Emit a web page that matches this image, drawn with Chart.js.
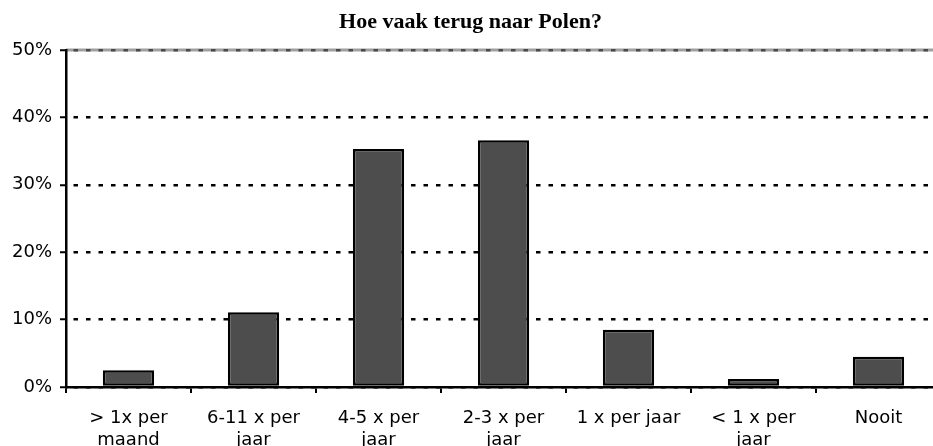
<!DOCTYPE html>
<html><head><meta charset="utf-8">
<script src="https://cdn.jsdelivr.net/npm/chart.js@4"></script>
<style>html,body{margin:0;padding:0;overflow:hidden;background:#fff}</style>
</head><body>
<canvas id="c" width="945" height="446" style="display:block;width:945px;height:446px"></canvas>
<script>
const categories = [["> 1x per","maand"],["6-11 x per","jaar"],["4-5 x per","jaar"],["2-3 x per","jaar"],"1 x per jaar",["< 1 x per","jaar"],"Nooit"];
const values = [2.5, 11.1, 35.3, 36.6, 8.5, 1.2, 4.5];
const yTickValues = [0, 10, 20, 30, 40, 50];
const titleText = "Hoe vaak terug naar Polen?";

const topLinePlugin = {
  id: 'topLine',
  beforeDraw(chart) {
    const {ctx, chartArea} = chart;
    const y = chart.scales.y.getPixelForValue(yTickValues[yTickValues.length - 1]);
    ctx.save();
    ctx.strokeStyle = '#a0a0a0';
    ctx.lineWidth = 3;
    ctx.beginPath();
    ctx.moveTo(chartArea.left, y);
    ctx.lineTo(chartArea.right, y);
    ctx.stroke();
    ctx.restore();
  }
};

new Chart(document.getElementById('c'), {
  type: 'bar',
  data: {
    labels: categories,
    datasets: [{
      data: values,
      backgroundColor: '#4d4d4d',
      borderColor: '#000',
      borderWidth: 2.5,
      borderSkipped: false,
      barPercentage: 0.41,
      categoryPercentage: 1
    }]
  },
  options: {
    responsive: false,
    animation: false,
    devicePixelRatio: 1,
    layout: { padding: { left: 0, right: 4, top: 0, bottom: 0 } },
    plugins: {
      legend: { display: false },
      tooltip: { enabled: false },
      title: {
        display: true,
        text: titleText,
        color: '#000',
        font: { family: 'Liberation Serif', size: 22, weight: 'bold', lineHeight: 1.2 },
        padding: { top: 9, bottom: 14.6 }
      }
    },
    scales: {
      x: {
        type: 'category',
        offset: true,
        afterFit(s) { s.height = 59; },
        grid: { offset: true, drawOnChartArea: false, color: '#000', lineWidth: 2, tickLength: 6, tickColor: '#000', tickWidth: 2 },
        border: { display: true, color: '#000', width: 2.5 },
        ticks: { color: '#000', font: { family: 'DejaVu Sans', size: 18, lineHeight: 1.2 }, maxRotation: 0, autoSkip: false, padding: 14.5 }
      },
      y: {
        min: yTickValues[0],
        max: yTickValues[yTickValues.length - 1],
        afterFit(s) { s.width = 66; },
        afterBuildTicks(s) { s.ticks = yTickValues.map(v => ({ value: v })); },
        grid: {
          color: (c) => (c.tick && c.tick.value === 50) ? '#4a4a4a' : '#000',
          lineWidth: 2.5,
          tickLength: 6,
          tickColor: '#000',
          tickWidth: 2,
          tickBorderDash: []
        },
        border: { display: true, color: '#000', width: 2.5, dash: [4.5, 8], dashOffset: -6 },
        ticks: { color: '#000', font: { family: 'DejaVu Sans', size: 18 }, padding: 8, callback: (v) => v + '%' }
      }
    }
  },
  plugins: [topLinePlugin]
});
</script>
</body></html>
